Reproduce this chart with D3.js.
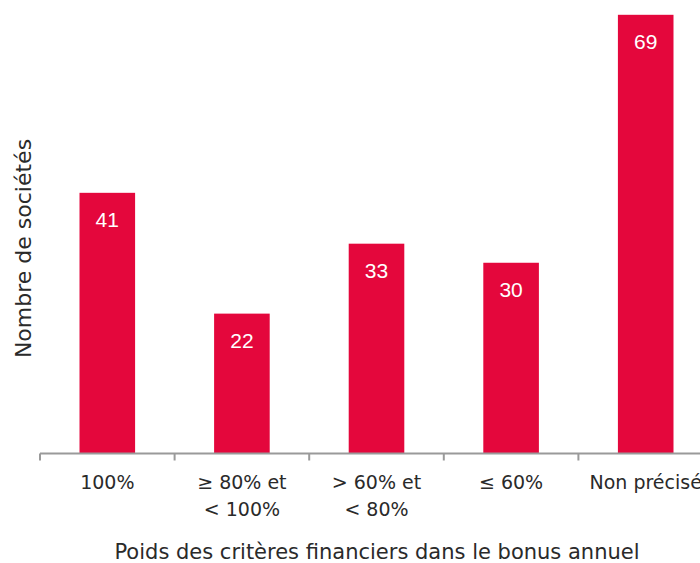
<!DOCTYPE html>
<html><head><meta charset="utf-8">
<script src="https://cdn.jsdelivr.net/npm/d3@7"></script>
<style>html,body{margin:0;padding:0;background:#fff;overflow:hidden}svg{display:block}</style>
</head><body>
<script>
const categories = ["100%", "≥ 80% et\n< 100%", "> 60% et\n< 80%", "≤ 60%", "Non précisé"];
const values = [41, 22, 33, 30, 69];
const xTitle = "Poids des critères financiers dans le bonus annuel";
const yTitle = "Nombre de sociétés";

const W = 700, H = 563;
const font = "'DejaVu Sans', sans-serif";
const svg = d3.select("body").append("svg").attr("width", W).attr("height", H);

const x = d3.scaleBand().domain(categories).range([40, 713]).paddingInner(0.587).paddingOuter(0.2935);
const y = d3.scaleLinear().domain([0, 69]).range([453.5, 14.8]);

svg.selectAll("rect.bar").data(values).join("rect")
  .attr("class", "bar")
  .attr("x", (d, i) => x(categories[i]))
  .attr("y", d => y(d))
  .attr("width", x.bandwidth())
  .attr("height", d => y(0) - y(d))
  .attr("fill", "#e4073c");

svg.selectAll("text.val").data(values).join("text")
  .attr("class", "val")
  .attr("x", (d, i) => x(categories[i]) + x.bandwidth() / 2)
  .attr("y", d => y(d) + 34)
  .attr("text-anchor", "middle")
  .attr("font-family", "'Liberation Sans', Arial, sans-serif").attr("font-size", 21).attr("fill", "#fff")
  .text(d => d);

// axis
const axisG = svg.append("g");
const [r0, r1] = x.range();
axisG.append("line").attr("x1", r0).attr("x2", r1).attr("y1", y(0)).attr("y2", y(0))
  .attr("stroke", "#9a9a9a").attr("stroke-width", 2);
const bounds = d3.range(categories.length + 1).map(i => r0 + i * x.step());
axisG.selectAll("line.tick").data(bounds).join("line").attr("class", "tick")
  .attr("x1", d => d).attr("x2", d => d).attr("y1", y(0)).attr("y2", y(0) + 7)
  .attr("stroke", "#9a9a9a").attr("stroke-width", 2);

const labels = svg.selectAll("text.tick").data(categories).join("text")
  .attr("class", "tick")
  .attr("text-anchor", "middle")
  .attr("font-family", font).attr("font-size", 19).attr("fill", "#2a2a2a");
labels.each(function(d) {
  const t = d3.select(this);
  d.split("\n").forEach((line, j) => {
    t.append("tspan").attr("x", x(d) + x.bandwidth() / 2).attr("y", 489 + j * 27).text(line);
  });
});

svg.append("text").attr("x", 377).attr("y", 558.5).attr("text-anchor", "middle")
  .attr("font-family", font).attr("font-size", 21).attr("fill", "#2a2a2a").text(xTitle);

svg.append("text").attr("transform", "translate(31,248.5) rotate(-90)").attr("text-anchor", "middle")
  .attr("font-family", font).attr("font-size", 22).attr("fill", "#2a2a2a").text(yTitle);
</script>
</body></html>
